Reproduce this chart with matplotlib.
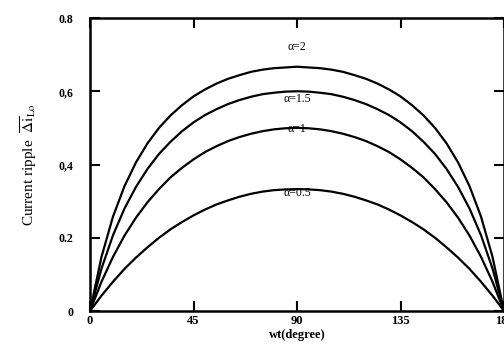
import matplotlib
matplotlib.use("Agg")
import matplotlib.pyplot as plt

plt.rcParams['font.family'] = ['Liberation Serif', 'DejaVu Serif']
plt.rcParams['mathtext.fontset'] = 'stix'

# wt in degrees (symmetric about 90)
wt = list(range(0, 181, 5))
half_05 = [0, 0.042, 0.080, 0.115, 0.146, 0.174, 0.200, 0.223, 0.243, 0.261,
           0.277, 0.291, 0.302, 0.312, 0.320, 0.326, 0.330, 0.332, 0.333]
half_1 = [0, 0.080, 0.148, 0.206, 0.255, 0.297, 0.333, 0.365, 0.391, 0.414,
          0.434, 0.450, 0.464, 0.475, 0.484, 0.491, 0.496, 0.499, 0.500]
half_15 = [0, 0.116, 0.207, 0.280, 0.339, 0.388, 0.429, 0.462, 0.491, 0.515,
           0.535, 0.551, 0.565, 0.576, 0.585, 0.592, 0.596, 0.599, 0.600]
half_2 = [0, 0.148, 0.258, 0.341, 0.406, 0.458, 0.500, 0.534, 0.562, 0.586,
          0.605, 0.621, 0.634, 0.644, 0.653, 0.659, 0.663, 0.665, 0.667]

ripple_05 = half_05 + half_05[-2::-1]
ripple_1 = half_1 + half_1[-2::-1]
ripple_15 = half_15 + half_15[-2::-1]
ripple_2 = half_2 + half_2[-2::-1]

labels = ["\u03b1=0.5", "\u03b1=1", "\u03b1=1.5", "\u03b1=2"]
label_y = [0.322, 0.497, 0.578, 0.72]

yticks = [0, 0.2, 0.4, 0.6, 0.8]
yticklabels = ["0", "0.2", "0,4", "0,6", "0.8"]
xticks = [0, 45, 90, 135, 180]

fig = plt.figure(figsize=(5.04, 3.47), dpi=100)
ax = fig.add_axes([0.1786, 0.1037, 0.8214, 0.8444])

for ys in (ripple_05, ripple_1, ripple_15, ripple_2):
    ax.plot(wt, ys, color='black', lw=1.6)

for lab, ly in zip(labels, label_y):
    ax.text(90, ly, lab, ha='center', va='center', fontsize=8.5)

ax.set_xlim(0, 180)
ax.set_ylim(0, 0.8)
ax.set_xticks(xticks)
ax.set_xticklabels([str(t) for t in xticks], fontweight='bold', fontsize=9)
ax.set_yticks(yticks)
ax.set_yticklabels(yticklabels, fontweight='bold', fontsize=8.5)
ax.tick_params(direction='in', length=7, width=1.5, top=True, right=True, pad=3)
ax.tick_params(axis='y', pad=12)
for s in ax.spines.values():
    s.set_linewidth(1.8)

ax.set_xlabel("wt(degree)", fontweight='bold', fontsize=9, labelpad=1)
ax.set_ylabel(r"Current ripple  $\overline{\Delta \mathrm{i}}_{\mathrm{Lo}}$", fontsize=11, labelpad=14)

fig.savefig("out.png", dpi=100)
